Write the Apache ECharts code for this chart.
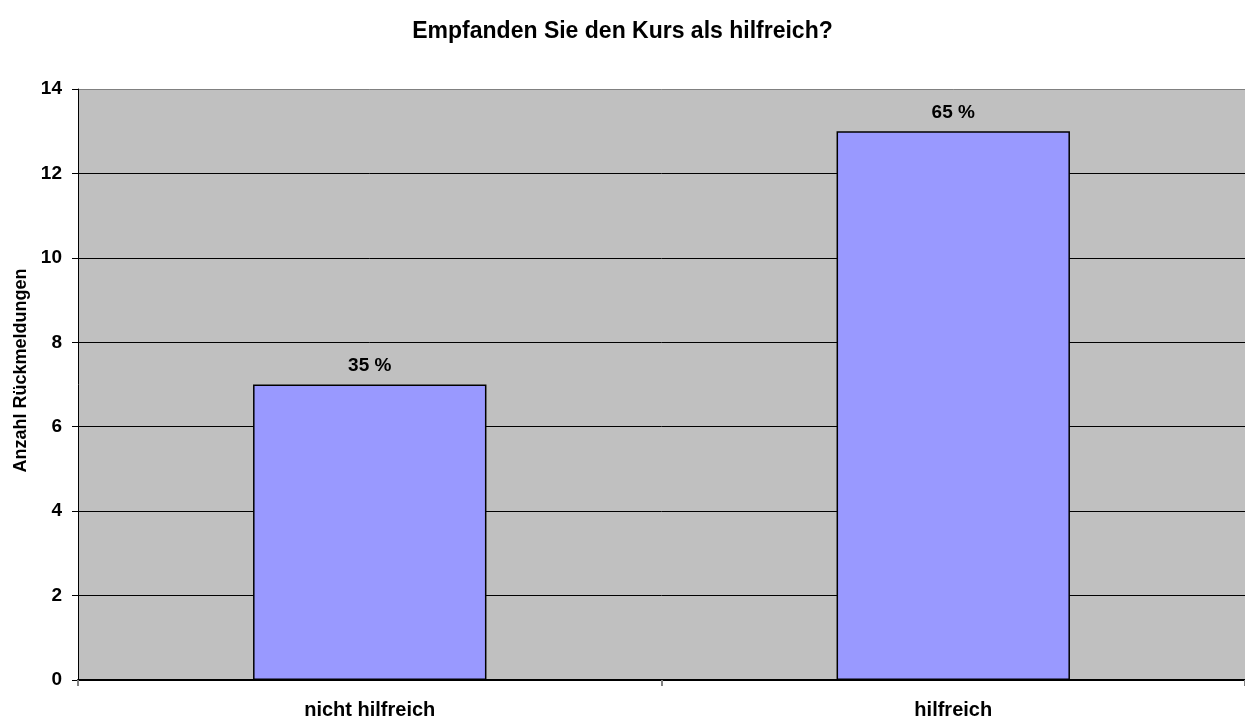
<!DOCTYPE html>
<html>
<head>
<meta charset="utf-8">
<script src="https://cdn.jsdelivr.net/npm/echarts@6/dist/echarts.min.js"></script>
<style>
  html, body { margin: 0; padding: 0; background: #fff; }
  #chart { width: 1245px; height: 719px; }
</style>
</head>
<body>
<div id="chart"></div>
<script>
// Survey answers: "Did you find the course helpful?"
const categories = ['nicht hilfreich', 'hilfreich'];
const counts = [7, 13];
const percentLabels = ['35 %', '65 %'];
const yTicks = [0, 2, 4, 6, 8, 10, 12, 14];

const font = '"Liberation Sans", Arial, sans-serif';

// Gridlines are black; the top border line of the plot is grey.
const splitColors = yTicks.map((v, i) => i === yTicks.length - 1 ? '#808080' : '#000');

const chart = echarts.init(document.getElementById('chart'));
chart.setOption({
  animation: false,
  title: {
    text: 'Empfanden Sie den Kurs als hilfreich?',
    left: 'center',
    top: 15,
    textStyle: { fontFamily: font, fontSize: 23, fontWeight: 'bold', color: '#000' }
  },
  grid: {
    left: 78, right: 0, top: 89, bottom: 39,
    outerBoundsMode: 'none',
    show: true,
    backgroundColor: '#C0C0C0',
    borderWidth: 0
  },
  xAxis: {
    type: 'category',
    data: categories,
    axisLine: { lineStyle: { color: '#000', width: 2 } },
    axisTick: { show: true, length: 6, lineStyle: { color: '#808080', width: 2 } },
    axisLabel: {
      fontFamily: font, fontSize: 20, fontWeight: 'bold', color: '#000', margin: 20
    }
  },
  yAxis: {
    type: 'value',
    min: yTicks[0],
    max: yTicks[yTicks.length - 1],
    interval: 2,
    name: 'Anzahl Rückmeldungen',
    nameLocation: 'middle',
    nameGap: 47,
    nameTextStyle: {
      fontFamily: font, fontSize: 18, fontWeight: 'bold', color: '#000',
      padding: [0, 0, 0, 28]
    },
    axisLine: { show: true, lineStyle: { color: '#000', width: 1 } },
    axisTick: { show: true, length: 6, lineStyle: { color: '#000' } },
    axisLabel: { fontFamily: font, fontSize: 19, fontWeight: 'bold', color: '#000', margin: 16 },
    splitLine: { show: true, lineStyle: { color: splitColors, width: 1 } }
  },
  series: [{
    type: 'bar',
    data: counts,
    barWidth: '40%',
    itemStyle: { color: '#9999FF', borderColor: '#000', borderWidth: 1.5 },
    label: {
      show: true,
      position: 'top',
      distance: 9,
      fontFamily: font, fontSize: 19, fontWeight: 'bold', color: '#000',
      formatter: p => percentLabels[p.dataIndex]
    }
  }]
});
</script>
</body>
</html>
